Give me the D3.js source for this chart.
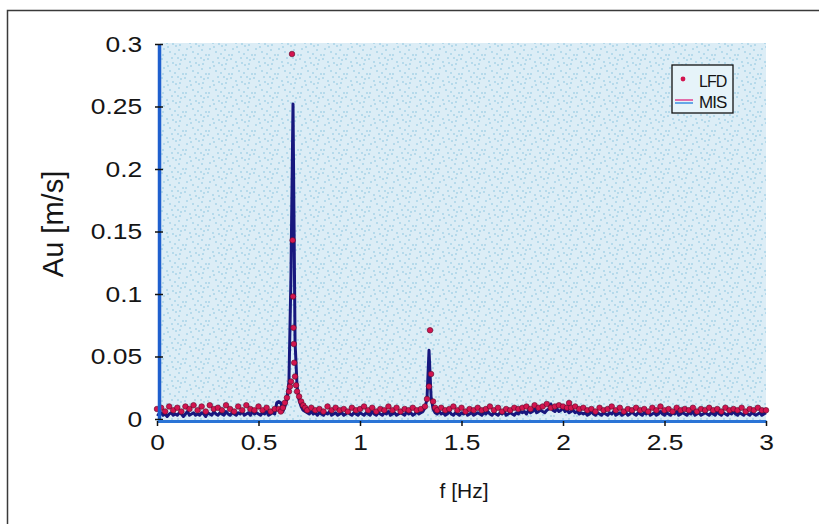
<!DOCTYPE html>
<html><head><meta charset="utf-8">
<script src="https://cdn.jsdelivr.net/npm/d3@7"></script>
<style>
body{margin:0;background:#fff;overflow:hidden}
svg{display:block}
text{font-family:"Liberation Sans",Arial,Helvetica,sans-serif;fill:#151515}
</style>
</head><body>
<svg id="c" width="819" height="524"></svg>
<script>
// ---------- data ----------
const freqStep = 0.01; // MIS spectrum sampled every 0.01 Hz from 0 to 3 Hz
const misAmp = [
0.004,0.003,0.005,0.003,0.004,0.002,0.004,0.005,0.003,0.004,
0.003,0.005,0.004,0.002,0.004,0.006,0.003,0.004,0.005,0.003,
0.004,0.003,0.005,0.004,0.002,0.005,0.004,0.003,0.006,0.004,
0.003,0.005,0.004,0.003,0.006,0.004,0.003,0.005,0.004,0.003,
0.005,0.004,0.006,0.003,0.004,0.005,0.003,0.006,0.004,0.005,
0.004,0.003,0.005,0.004,0.006,0.003,0.004,0.005,0.004,0.013,
0.014,0.013,0.006,0.010,0.016,0.030,0.115,0.252,0.062,0.026,
0.015,0.010,0.007,0.006,0.005,0.004,0.006,0.004,0.005,0.003,
0.005,0.004,0.003,0.005,0.004,0.006,0.003,0.004,0.005,0.003,
0.004,0.005,0.003,0.004,0.006,0.004,0.003,0.005,0.004,0.003,
0.005,0.004,0.003,0.005,0.004,0.003,0.006,0.004,0.003,0.005,
0.004,0.003,0.005,0.004,0.006,0.003,0.004,0.005,0.003,0.004,
0.005,0.004,0.003,0.006,0.004,0.005,0.003,0.004,0.006,0.004,
0.005,0.006,0.009,0.016,0.055,0.018,0.008,0.005,0.004,0.006,
0.004,0.005,0.003,0.004,0.006,0.004,0.003,0.005,0.004,0.003,
0.005,0.004,0.006,0.003,0.004,0.005,0.003,0.004,0.005,0.004,
0.003,0.005,0.004,0.006,0.004,0.003,0.005,0.004,0.003,0.005,
0.004,0.006,0.003,0.004,0.005,0.004,0.003,0.005,0.004,0.006,
0.005,0.006,0.004,0.007,0.005,0.006,0.008,0.005,0.006,0.007,
0.006,0.005,0.007,0.008,0.012,0.007,0.006,0.008,0.006,0.007,
0.009,0.006,0.007,0.005,0.006,0.007,0.005,0.006,0.004,0.005,
0.004,0.005,0.003,0.004,0.006,0.004,0.003,0.005,0.004,0.003,
0.005,0.004,0.003,0.005,0.004,0.006,0.003,0.004,0.005,0.003,
0.004,0.005,0.003,0.004,0.006,0.004,0.003,0.005,0.004,0.003,
0.005,0.004,0.006,0.003,0.004,0.005,0.003,0.004,0.006,0.004,
0.003,0.005,0.004,0.003,0.005,0.004,0.006,0.003,0.004,0.005,
0.004,0.003,0.005,0.004,0.006,0.003,0.004,0.005,0.003,0.004,
0.005,0.004,0.003,0.005,0.004,0.003,0.006,0.004,0.003,0.005,
0.004,0.003,0.005,0.004,0.006,0.004,0.003,0.005,0.004,0.003,
0.005,0.004,0.003,0.005,0.004,0.003,0.004,0.005,0.003,0.004,
0.005
];

const lfdFreq = [
0,0.02,0.04,0.06,0.08,0.1,0.12,0.14,0.16,0.18,
0.2,0.22,0.24,0.26,0.28,0.3,0.32,0.34,0.36,0.38,
0.4,0.42,0.44,0.46,0.48,0.5,0.52,0.54,0.56,0.58,
0.6,0.61,0.62,0.63,0.64,0.65,0.655,0.66,0.665,0.668,0.67,0.672,0.674,0.676,0.68,0.685,0.69,0.7,0.71,0.72,0.73,0.74,
0.76,0.78,0.8,0.82,0.84,0.86,0.88,0.9,0.92,0.94,0.96,0.98,1,1.02,1.04,1.06,1.08,1.1,1.12,1.14,1.16,1.18,1.2,1.22,1.24,1.26,1.28,1.3,
1.32,1.33,1.34,1.345,1.35,1.36,1.37,1.38,
1.4,1.42,1.44,1.46,1.48,1.5,1.52,1.54,1.56,1.58,1.6,1.62,1.64,1.66,1.68,1.7,1.72,1.74,1.76,1.78,1.8,1.82,1.84,1.86,1.88,1.9,1.92,1.94,1.96,1.98,2,
2.02,2.03,
2.04,2.06,2.08,2.1,2.12,2.14,2.16,2.18,2.2,2.22,2.24,2.26,2.28,2.3,2.32,2.34,2.36,2.38,2.4,2.42,2.44,2.46,2.48,2.5,
2.52,2.54,2.56,2.58,2.6,2.62,2.64,2.66,2.68,2.7,2.72,2.74,2.76,2.78,2.8,2.82,2.84,2.86,2.88,2.9,2.92,2.94,2.96,2.98,3
];
const lfdAmp = [
0.008,0.009,0.006,0.010,0.007,0.009,0.006,0.010,0.008,0.011,
0.007,0.010,0.006,0.011,0.008,0.009,0.007,0.011,0.008,0.006,
0.010,0.007,0.011,0.008,0.007,0.010,0.007,0.009,0.006,0.008,
0.008,0.006,0.009,0.013,0.017,0.022,0.026,0.030,0.292,0.143,0.098,0.073,0.060,0.045,0.034,0.027,0.022,0.018,0.014,0.011,0.009,0.007,
0.009,0.007,0.008,0.006,0.010,0.007,0.009,0.007,0.008,0.006,0.009,0.007,0.008,0.010,0.007,0.009,0.006,0.008,0.007,0.010,0.007,0.009,0.006,0.008,0.007,0.009,0.007,0.008,
0.010,0.016,0.026,0.071,0.036,0.014,0.009,0.007,
0.009,0.007,0.008,0.010,0.007,0.009,0.006,0.008,0.007,0.009,0.007,0.008,0.010,0.007,0.009,0.006,0.008,0.007,0.009,0.008,0.009,0.010,0.008,0.011,0.009,0.010,0.012,0.009,0.010,0.011,0.010,
0.009,0.0128,
0.009,0.010,0.008,0.009,0.007,0.008,0.006,0.009,0.007,0.008,0.010,0.007,0.009,0.006,0.008,0.007,0.009,0.007,0.008,0.006,0.009,0.007,0.010,0.007,
0.008,0.006,0.009,0.007,0.008,0.007,0.009,0.006,0.008,0.007,0.009,0.007,0.008,0.006,0.009,0.007,0.008,0.007,0.009,0.006,0.008,0.007,0.009,0.007,0.007
];

const xTicks = [0, 0.5, 1, 1.5, 2, 2.5, 3];
const xTickLabels = ["0", "0.5", "1", "1.5", "2", "2.5", "3"];
const yTicks = [0, 0.05, 0.1, 0.15, 0.2, 0.25, 0.3];
const yTickLabels = ["0", "0.05", "0.1", "0.15", "0.2", "0.25", "0.3"];
const seriesNames = ["LFD", "MIS"];
const xTitle = "f [Hz]";
const yTitle = "Au [m/s]";

// ---------- drawing ----------
const svg = d3.select("#c");
const x = d3.scaleLinear().domain([0, 3]).range([157, 766]);
const y = d3.scaleLinear().domain([0, 0.3]).range([419, 44]);

// speckled paper texture for the plot area
const defs = svg.append("defs");
const pat = defs.append("pattern").attr("id", "speck").attr("patternUnits", "userSpaceOnUse")
  .attr("width", 23).attr("height", 19);
pat.append("rect").attr("width", 23).attr("height", 19).attr("fill", "#dcedf6");
const speckPos = [[1,2],[6,5],[11,1],[15,8],[20,3],[3,11],[9,14],[14,16],[18,12],[22,17],[7,9],[12,6],[17,1],[2,17],[19,7]];
pat.selectAll("circle").data(speckPos).join("circle")
  .attr("cx", d => d[0]).attr("cy", d => d[1]).attr("r", 0.8).attr("fill", "#86c2df");

// outer frame (top and left edges visible)
svg.append("path").attr("d", "M7.5,524 L7.5,10.5 L819,10.5")
  .attr("fill", "none").attr("stroke", "#3a3a3a").attr("stroke-width", 1.5);

// plot background
svg.append("rect").attr("x", 160).attr("y", 43).attr("width", 606).attr("height", 377)
  .attr("fill", "url(#speck)");

const misData = misAmp.map((a, i) => ({f: i * freqStep, a}));
const lfdData = lfdFreq.map((f, i) => ({f, a: lfdAmp[i]}));

// MIS line
svg.append("path").datum(misData)
  .attr("fill", "none").attr("stroke", "#17177e").attr("stroke-width", 3)
  .attr("stroke-linejoin", "round")
  .attr("d", d3.line().x(d => x(d.f)).y(d => y(d.a)));

// LFD dots
svg.append("g").selectAll("circle").data(lfdData).join("circle")
  .attr("cx", d => x(d.f)).attr("cy", d => y(d.a)).attr("r", 2.8)
  .attr("fill", "#d3144f").attr("stroke", "#5a0a2a").attr("stroke-width", 0.6);

// axes
const sx = 1.2;
const yAxis = d3.axisLeft(y).tickValues(yTicks).tickFormat((d, i) => yTickLabels[i])
  .tickSizeInner(4).tickSizeOuter(0).tickPadding(10);
const gy = svg.append("g").attr("transform", "translate(159,0)").call(yAxis);
gy.select(".domain").attr("stroke", "#1f5fce").attr("stroke-width", 3.5);
gy.selectAll(".tick line").attr("x1", -4).attr("x2", 4).attr("stroke", "#111").attr("stroke-width", 1.5);
gy.selectAll(".tick text").attr("font-size", 22).attr("fill", "#151515")
  .attr("font-family", "'Liberation Sans', Arial, sans-serif")
  .attr("transform", `scale(${sx},1)`);

const xAxis = d3.axisBottom(x).tickValues(xTicks).tickFormat((d, i) => xTickLabels[i])
  .tickSizeInner(5).tickSizeOuter(0).tickPadding(8);
const gx = svg.append("g").attr("transform", "translate(0,421)").call(xAxis);
gx.select(".domain").attr("stroke", "#2a74d6").attr("stroke-width", 3);
gx.selectAll(".tick line").attr("stroke", "#111").attr("stroke-width", 1.5);
gx.selectAll(".tick text").attr("font-size", 22).attr("fill", "#151515")
  .attr("font-family", "'Liberation Sans', Arial, sans-serif")
  .attr("transform", `scale(${sx},1)`);

// axis titles
svg.append("text").attr("x", 464).attr("y", 498).attr("text-anchor", "middle")
  .attr("font-size", 21).text(xTitle);
svg.append("text").attr("transform", "translate(63,224) rotate(-90)")
  .attr("text-anchor", "middle").attr("font-size", 29).text(yTitle);

// legend
const lg = svg.append("g");
lg.append("rect").attr("x", 672).attr("y", 65).attr("width", 61).attr("height", 48)
  .attr("fill", "#e6f3f9").attr("stroke", "#111").attr("stroke-width", 1.3);
lg.append("circle").attr("cx", 683).attr("cy", 79).attr("r", 2.4).attr("fill", "#d3144f");
lg.append("text").attr("x", 699).attr("y", 87).attr("font-size", 16).attr("letter-spacing", -1).text(seriesNames[0]);
lg.append("line").attr("x1", 675).attr("x2", 693).attr("y1", 100).attr("y2", 100)
  .attr("stroke", "#e0408e").attr("stroke-width", 1.5);
lg.append("line").attr("x1", 675).attr("x2", 693).attr("y1", 103).attr("y2", 103)
  .attr("stroke", "#3a8ee0").attr("stroke-width", 1.5);
lg.append("text").attr("x", 699).attr("y", 108).attr("font-size", 17).attr("letter-spacing", -1).text(seriesNames[1]);
</script>
</body></html>
